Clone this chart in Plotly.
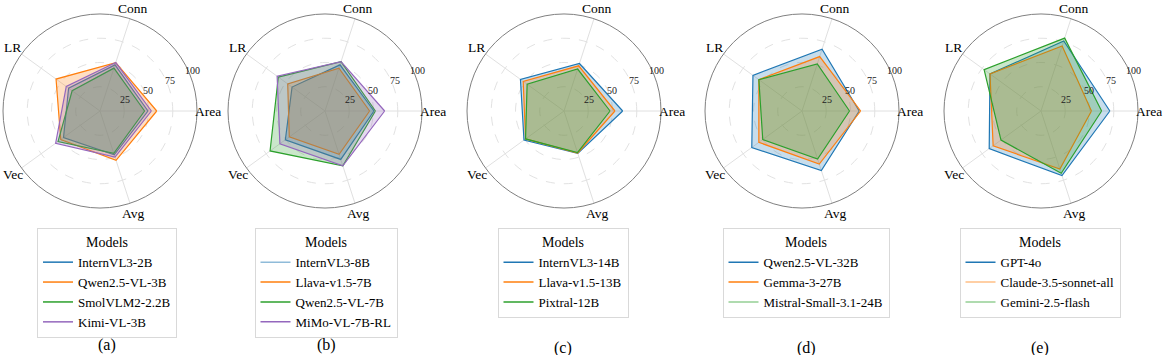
import math
import plotly.graph_objects as go

# axes of every radar, counter-clockwise from the right
metrics = ["Area", "Conn", "LR", "Vec", "Avg"]
radial_ticks = [25, 50, 75, 100]

# (a) small models
models_a = ["InternVL3-2B", "Qwen2.5-VL-3B", "SmolVLM2-2.2B", "Kimi-VL-3B"]
scores_a = [
    [49.5, 50.0, 40.0, 46.5, 47.5],
    [58.5, 52.5, 56.0, 50.0, 53.5],
    [46.0, 46.5, 35.5, 53.5, 46.0],
    [53.0, 52.5, 43.0, 56.5, 50.0],
]

# (b) ~7-8B models
models_b = ["InternVL3-8B", "Llava-v1.5-7B", "Qwen2.5-VL-7B", "MiMo-VL-7B-RL"]
scores_b = [
    [50.5, 50.0, 42.0, 50.5, 52.5],
    [46.0, 46.5, 47.5, 45.5, 47.0],
    [52.0, 53.5, 59.5, 70.0, 59.5],
    [61.5, 53.5, 61.0, 57.5, 59.5],
]

# (c) ~12-14B models
models_c = ["InternVL3-14B", "Llava-v1.5-13B", "Pixtral-12B"]
scores_c = [
    [60.5, 51.5, 55.5, 51.0, 46.0],
    [52.5, 49.0, 52.0, 49.0, 45.5],
    [47.5, 45.5, 47.0, 49.0, 45.0],
]

# (d) ~24-32B models
models_d = ["Qwen2.5-VL-32B", "Gemma-3-27B", "Mistral-Small-3.1-24B"]
scores_d = [
    [59.0, 67.0, 62.5, 64.0, 64.5],
    [60.5, 59.0, 55.0, 55.0, 57.5],
    [49.0, 51.0, 55.0, 50.0, 52.0],
]

# (e) proprietary models
models_e = ["GPT-4o", "Claude-3.5-sonnet-all", "Gemini-2.5-flash"]
scores_e = [
    [71.0, 76.0, 65.0, 66.0, 70.0],
    [52.0, 70.5, 65.0, 61.0, 63.0],
    [62.5, 79.0, 72.5, 51.0, 67.5],
]

captions = ["(a)", "(b)", "(c)", "(d)", "(e)"]

# styling / layout (pixels)
FONT = "Liberation Serif"
W, H = 1163, 355
RADIUS = 97
CY = 111
centers = [100, 325, 564, 802, 1041]
legend_centers = [107, 326, 563, 806, 1040]
caption_y = [345, 345, 348, 348, 348]
tab = ["#1f77b4", "#ff7f0e", "#2ca02c", "#9467bd"]
fills = [
    "rgba(31,119,180,0.25)",
    "rgba(255,127,14,0.25)",
    "rgba(44,160,44,0.25)",
    "rgba(148,103,189,0.25)",
]
legend_colors = [
    tab,
    ["#8fbbd9", tab[1], tab[2], tab[3]],
    tab,
    [tab[0], tab[1], "#95cf95"],
    [tab[0], "#ffbf86", "#95cf95"],
]

panels = [
    (models_a, scores_a),
    (models_b, scores_b),
    (models_c, scores_c),
    (models_d, scores_d),
    (models_e, scores_e),
]


def px(x, y):
    return x / W, 1 - y / H


fig = go.Figure()
theta = metrics + metrics[:1]

for p, (names, scores) in enumerate(panels):
    sub = "polar" if p == 0 else f"polar{p + 1}"
    leg = "legend" if p == 0 else f"legend{p + 1}"
    for i, (name, vals) in enumerate(zip(names, scores)):
        fig.add_trace(
            go.Scatterpolar(
                r=vals + vals[:1],
                theta=theta,
                mode="lines",
                fill="toself",
                fillcolor=fills[i],
                line=dict(color=tab[i], width=1.2),
                name=name,
                subplot=sub,
                showlegend=False,
                hoverinfo="skip",
            )
        )
    # line-only entries for the legend box
    for i, name in enumerate(names):
        fig.add_trace(
            go.Scatterpolar(
                r=[None],
                theta=[metrics[0]],
                mode="lines",
                line=dict(color=legend_colors[p][i], width=1.5),
                name=name,
                subplot=sub,
                legend=leg,
            )
        )

    cx = centers[p]
    fig.update_layout(
        {
            sub: dict(
                domain=dict(
                    x=[(cx - RADIUS) / W, (cx + RADIUS) / W],
                    y=[(H - CY - RADIUS) / H, (H - CY + RADIUS) / H],
                ),
                bgcolor="white",
                angularaxis=dict(
                    categoryorder="array",
                    categoryarray=metrics,
                    rotation=0,
                    direction="counterclockwise",
                    showline=True,
                    linecolor="#808080",
                    linewidth=1,
                    gridcolor="#e0e0e0",
                    ticks="",
                    showticklabels=False,
                ),
                radialaxis=dict(
                    range=[0, 100],
                    tickvals=radial_ticks,
                    angle=22.5,
                    showline=False,
                    ticks="",
                    showticklabels=False,
                    gridcolor="#e2e2e2",
                    griddash="dash",
                ),
            )
        }
    )

    # category labels just outside the rim, matplotlib style
    for k, lab in enumerate(metrics):
        a = math.radians(72 * k)
        rr = RADIUS + 11
        x, y = px(cx + rr * math.cos(a), CY - rr * math.sin(a))
        fig.add_annotation(
            x=x, y=y, xref="paper", yref="paper", text=lab, showarrow=False,
            xanchor="center", yanchor="middle",
            font=dict(family=FONT, size=13.5, color="black"),
        )

    # radial tick labels along 23.5 deg
    for t in radial_ticks:
        a = math.radians(23.5)
        rr = t * RADIUS / 100 + 3.5
        x, y = px(cx + rr * math.cos(a), CY - rr * math.sin(a))
        fig.add_annotation(
            x=x, y=y, xref="paper", yref="paper", text=str(t), showarrow=False,
            xanchor="center", yanchor="middle",
            font=dict(family=FONT, size=10, color="#222"),
        )

    lx, ly = px(legend_centers[p], 228)
    fig.update_layout(
        {
            leg: dict(
                x=lx,
                xanchor="center",
                y=ly,
                yanchor="top",
                bgcolor="white",
                bordercolor="#d9d9d9",
                borderwidth=1,
                font=dict(family=FONT, size=13, color="black"),
                title=dict(
                    text="Models",
                    side="top center",
                    font=dict(family=FONT, size=14, color="black"),
                ),
                tracegroupgap=0,
                itemwidth=30,
            )
        }
    )

    capx, capy = px(legend_centers[p], caption_y[p])
    fig.add_annotation(
        x=capx, y=capy, xref="paper", yref="paper", text=captions[p],
        showarrow=False, xanchor="center", yanchor="middle",
        font=dict(family=FONT, size=16, color="black"),
    )

fig.update_layout(
    width=W,
    height=H,
    margin=dict(l=0, r=0, t=0, b=0),
    paper_bgcolor="white",
    plot_bgcolor="white",
    font=dict(family=FONT, color="black"),
)

fig.write_html(
    "out.html",
    config={"displayModeBar": False},
    post_script="document.body.style.margin='0px';",
)
